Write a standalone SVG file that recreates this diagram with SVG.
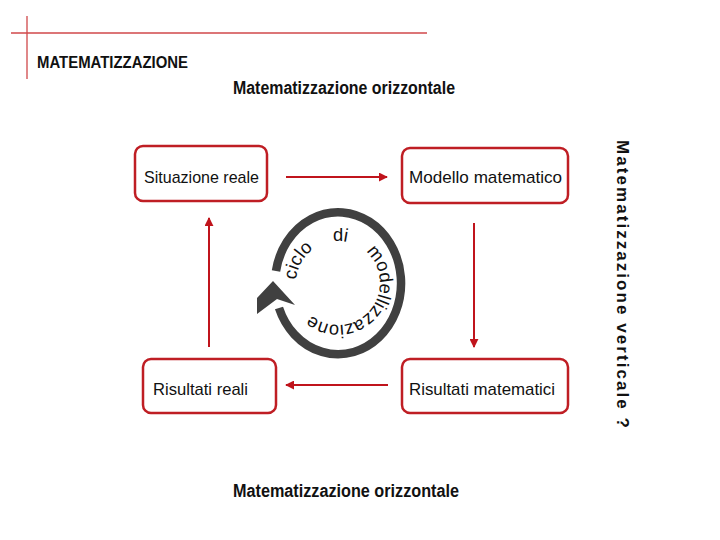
<svg xmlns="http://www.w3.org/2000/svg" xmlns:xlink="http://www.w3.org/1999/xlink" width="720" height="540" viewBox="0 0 720 540">
<style>
.box{fill:#ffffff;stroke:#bf1e24;stroke-width:2.5}
.lbl{font-family:"Liberation Sans",Arial,sans-serif;font-size:17px;fill:#111111}
.conn{stroke:#c0141c;stroke-width:2;fill:none}
.ttl{font-family:"Liberation Sans",Arial,sans-serif;font-weight:bold;fill:#111111}
.cyc{font-family:"Liberation Sans",Arial,sans-serif;font-size:18.5px;fill:#111111;word-spacing:16px}
</style>
<defs>
<marker id="ah" viewBox="0 0 10 10" refX="9" refY="5" markerWidth="4.5" markerHeight="4.5" orient="auto" markerUnits="strokeWidth">
<path d="M0,0 L10,5 L0,10 z" fill="#c0141c"/>
</marker>
<path id="tp" d="M 296 283 A 42 42 0 1 1 380 283 A 42 42 0 1 1 296 283"/>
</defs>
<rect width="720" height="540" fill="#ffffff"/>
<g id="frame">
<line x1="11" y1="33" x2="427" y2="33" stroke="#d0474a" stroke-width="1.3"/>
<line x1="27" y1="16" x2="27" y2="79" stroke="#d0474a" stroke-width="1.3"/>
</g>
<text id="title" class="ttl" x="37" y="68" font-size="17" textLength="151" lengthAdjust="spacingAndGlyphs">MATEMATIZZAZIONE</text>
<text id="top-label" class="ttl" x="233" y="94" font-size="18" textLength="222" lengthAdjust="spacingAndGlyphs">Matematizzazione orizzontale</text>
<text id="bottom-label" class="ttl" x="233" y="497" font-size="18" textLength="226" lengthAdjust="spacingAndGlyphs">Matematizzazione orizzontale</text>
<text id="vertical-label" class="ttl" font-size="17" transform="translate(617,140) rotate(90)" x="0" y="0" textLength="288" lengthAdjust="spacing">Matematizzazione verticale ?</text>
<g id="connectors">
<line class="conn" x1="286" y1="177" x2="387" y2="177" marker-end="url(#ah)"/>
<line class="conn" x1="474" y1="223" x2="474" y2="347" marker-end="url(#ah)"/>
<line class="conn" x1="388" y1="385" x2="286" y2="385" marker-end="url(#ah)"/>
<line class="conn" x1="209" y1="347" x2="209" y2="218" marker-end="url(#ah)"/>
</g>
<g id="n-situazione">
<rect class="box" x="135" y="146" width="132" height="55" rx="8"/>
<text class="lbl" x="144" y="183" textLength="115" lengthAdjust="spacingAndGlyphs">Situazione reale</text>
</g>
<g id="n-modello">
<rect class="box" x="402" y="148" width="166" height="55" rx="8"/>
<text class="lbl" x="409" y="183" textLength="153" lengthAdjust="spacingAndGlyphs">Modello matematico</text>
</g>
<g id="n-risultati-mat">
<rect class="box" x="402" y="359" width="166" height="54" rx="8"/>
<text class="lbl" x="409" y="395" textLength="146" lengthAdjust="spacingAndGlyphs">Risultati matematici</text>
</g>
<g id="n-risultati-reali">
<rect class="box" x="143" y="359" width="133" height="54" rx="8"/>
<text class="lbl" x="153" y="395" textLength="95" lengthAdjust="spacingAndGlyphs">Risultati reali</text>
</g>
<g id="cycle">
<path d="M 276 271 A 63 71 0 1 1 279 308" fill="none" stroke="#404040" stroke-width="8.5"/>
<polygon points="273,281 295,305 277,299 257,314 257,298" fill="#404040"/>
<text class="cyc"><textPath xlink:href="#tp" startOffset="3" textLength="224" lengthAdjust="spacingAndGlyphs">ciclo di modellizzazione</textPath></text>
</g>
</svg>
